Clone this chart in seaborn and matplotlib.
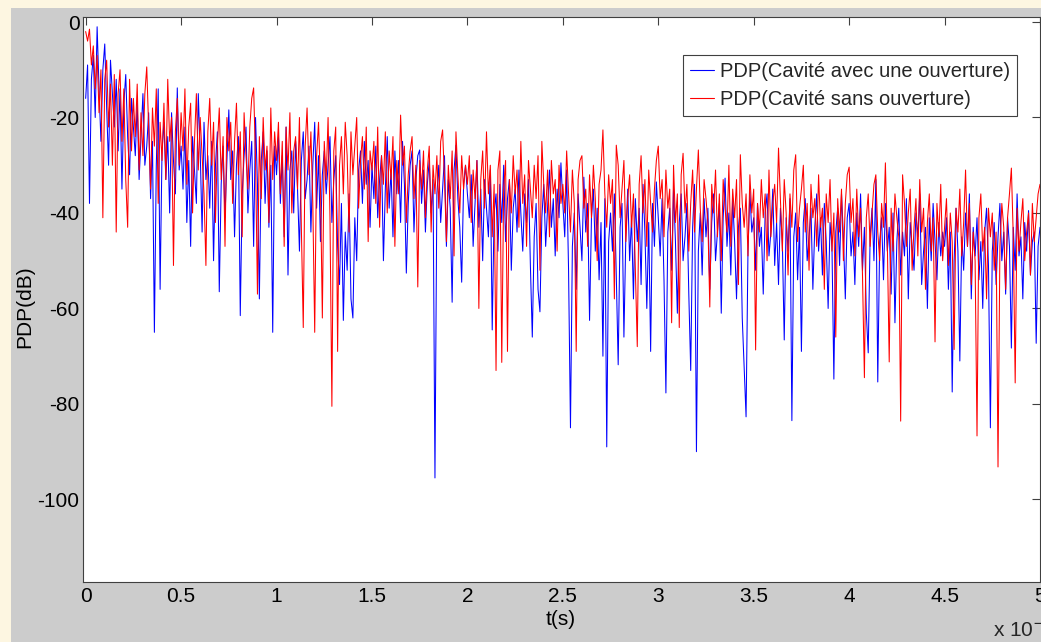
import numpy as np
import pandas as pd
import matplotlib
matplotlib.use("Agg")
import matplotlib.pyplot as plt
from matplotlib.patches import Rectangle
import seaborn as sns

# time grid (units of 1e-7 s)
t = np.round(np.arange(501) * 0.01, 2)

# PDP (Cavité avec une ouverture) - blue
blue = [
    -16, -9, -38, -12, -7, -20, -1, -14, -25, -10, -4.6, -18, -30, -8, -15, -22, -12, -27, -14, -35, -17, -11, -24, -32, -16,
    -22, -28, -17, -33, -24, -15, -30, -26, -19, -37, -25, -65, -30, -14, -56, -27, -21, -33, -24, -40, -19, -29, -36, -13.8, -31,
    -26, -35, -22, -42, -29, -47, -24, -31, -38, -15, -27, -44, -21, -33, -28, -39, -25, -50, -30, -23, -56.5, -34, -26, -41, -29,
    -18.4, -33, -27, -45, -30, -24, -61.5, -36, -28, -22, -40, -31, -25, -47, -20, -34, -58, -29, -23, -38, -27, -43, -30, -65, -26,
    -32, -24, -38, -28, -45, -22, -53, -31, -27, -40, -25, -35, -48, -29, -23, -37, -33, -26, -44, -30, -21, -39, -28, -46, -32,
    -27, -36, -30, -24, -42, -33, -28, -47, -55, -38, -62.5, -44, -52, -36, -58, -62, -41, -50, -31, -27, -38, -25, -34, -29, -43,
    -30, -37, -26, -41, -33, -28, -50, -35, -24, -39, -31, -45, -27, -36, -29, -42, -25, -34, -52.6, -38, -30, -27, -44, -33, -28,
    -26.8, -38, -31, -44, -34, -29, -40, -33, -95.5, -36, -30, -42, -35, -28, -47, -33, -39, -58.7, -31, -25.8, -37, -43, -54.5, -34, -30,
    -36, -41, -32, -47, -38, -29, -43, -35, -50, -33, -39, -45, -31, -64.5, -40, -36, -48, -34, -42, -30, -46, -37, -33, -52, -39,
    -35, -44, -31, -40, -48, -36, -42, -33, -51, -66, -45, -38, -56, -60.7, -41, -34, -47, -39, -31, -43, -37, -49, -35, -41, -29.5,
    -38, -45, -31, -52, -85, -47, -40, -56, -36, -43, -50, -32.5, -44, -38, -62.5, -41, -35, -48, -39, -54, -42, -70, -37, -89, -46,
    -40, -48, -36, -53, -71.8, -43, -38, -66, -45, -35, -50, -41, -58, -37, -46, -39, -55, -34, -44, -60, -42, -69, -38, -47, -33.5,
    -41, -49, -37, -54, -77.7, -44, -39, -52, -35, -46, -61, -42, -36, -50, -45, -38, -57, -73, -43, -34, -90, -48, -40, -53, -37,
    -45, -39, -56, -42, -36, -50, -44, -38, -61, -41, -32.7, -47, -40, -53, -37, -46, -58, -43, -39, -62, -72.5, -82.7, -48, -35.5, -44,
    -41, -52, -38, -47, -43, -57, -40, -36, -49, -44, -35, -51, -42, -55, -39, -46, -66.6, -41, -48, -37, -83.5, -45, -40, -54, -43,
    -69, -42, -37, -50, -45, -39, -56, -43, -36, -48, -41, -53, -38, -46, -60, -42, -47, -74.8, -44, -39, -51, -36, -45, -58, -41,
    -38, -49, -44, -55, -40, -47, -36, -52, -43, -61, -69.3, -45, -39, -50, -33, -75.4, -46, -41, -54, -38, -48, -43, -57, -40, -63,
    -46, -39, -53, -44, -49, -37, -58, -42, -47, -52, -40, -45, -36, -55, -48, -43, -60, -41, -50, -38, -46, -54, -42, -49, -44,
    -47, -41, -56, -44, -77.5, -50, -39, -48, -71, -45, -52, -40, -47, -36, -58, -43, -49, -41, -54, -46, -60, -44, -39, -51, -85,
    -48, -42, -55, -45, -38, -50, -44, -57, -41, -47, -68.3, -43, -52, -36, -49, -45, -58, -42, -48, -39.5, -53, -46, -44, -67.3, -47,
    -43,
]

# PDP (Cavité sans ouverture) - red
red = [
    -2, -4, -1.5, -9, -5, -14, -7, -19, -10, -41, -12, -8, -22, -13, -30, -11, -44, -15, -10, -25, -14, -33, -43, -12, -27,
    -16, -24, -13, -31, -19, -28, -15, -9.4, -22, -35, -18, -26, -14, -38, -21, -29, -17, -33, -12, -25, -20, -51, -23, -16, -30,
    -19, -27, -14, -34, -22, -17, -40, -25, -15, -31, -20, -28, -36, -51, -23, -16, -30, -21, -42, -26, -18, -33, -24, -47, -20,
    -27, -21, -38, -25, -17, -32, -23, -45, -19, -28, -35, -22, -16, -13.8, -29, -57, -24, -37, -20, -31, -26, -42, -18, -33, -23,
    -29, -21, -36, -25, -47, -22, -31, -19, -40, -27, -24, -35, -20, -43, -64, -26, -18, -32, -23, -38, -65, -28, -21, -34, -62,
    -25, -33, -20, -41, -80.5, -27, -22, -69, -30, -24, -36, -21, -28, -44, -23, -32, -26, -20, -39, -29, -24, -35, -22, -46, -27,
    -31, -25, -38, -22, -43, -28, -34, -23, -40, -27, -33, -24, -47, -29, -36, -19.5, -30, -26, -42, -32, -27, -24, -37, -30, -55.5,
    -29, -35, -27, -41, -31, -26, -44, -30, -36, -28, -39, -25, -22.6, -33, -46, -30, -37, -27, -49, -23, -32, -40, -28, -35, -30,
    -34, -28, -42, -31, -37, -29, -60, -33, -27, -39, -23, -36, -30, -45, -34, -73, -31, -27, -71.3, -35, -29, -69, -33, -40, -28,
    -36, -31, -43, -25, -38, -32, -47, -29, -35, -41, -30, -37, -28, -52, -25, -34, -40, -31, -45, -29, -36, -33, -48, -30, -38,
    -34, -40, -27, -36, -44, -31, -38, -69, -33, -29, -28, -39, -35, -47, -32, -41, -30, -37, -50, -34, -31, -22.6, -36, -43, -32,
    -38, -33, -58, -25.8, -30, -41, -35, -29, -46, -37, -32, -43, -36, -52, -68, -34, -28, -40, -33, -47, -31, -38, -44, -35, -29,
    -26, -37, -33, -45, -31, -39, -35, -63, -30, -42, -36, -64, -32, -27.5, -40, -34, -48, -38, -31, -44, -35, -26.8, -39, -46, -33,
    -37, -42, -59.7, -34, -40, -31, -45, -36, -50, -33, -39, -44, -30, -47, -35, -41, -33, -55, -27.8, -38, -43, -36, -49, -32, -40,
    -35, -68.7, -38, -44, -33, -41, -36, -50, -31, -45, -38, -34, -42, -26.4, -37, -48, -33, -40, -53, -36, -43, -31, -27.8, -46, -39,
    -35, -30, -44, -38, -52, -34, -41, -37, -47, -32, -43, -39, -56, -36, -42, -33, -48, -40, -66, -37, -44, -35, -50, -38, -32,
    -30.4, -42, -37, -49, -35, -45, -39, -53, -74.5, -41, -36, -47, -40, -34, -32, -44, -50, -38, -43, -29.5, -46, -71.2, -39, -48, -36,
    -41, -45, -83.6, -32, -38, -47, -40, -35, -52, -43, -37, -49, -33, -44, -39, -56, -42, -36, -48, -41, -67, -38, -45, -34, -50,
    -43, -37, -51, -40, -46, -68.6, -39, -44, -35, -49, -42, -31, -47, -38, -55, -44, -50, -86.7, -41, -36, -48, -43, -58, -39, -45,
    -40, -52, -44, -93.2, -47, -38, -43, -56, -41, -36, -30.6, -45, -75.6, -39, -48, -42, -37, -50, -44, -40, -53, -38, -46, -41, -36,
    -34,
]

labels = ["PDP(Cavité avec une ouverture)", "PDP(Cavité sans ouverture)"]
colors = ["#0000ff", "#ff0000"]
xticks = [0, 0.5, 1, 1.5, 2, 2.5, 3, 3.5, 4, 4.5, 5]
xticklabels = ["0", "0.5", "1", "1.5", "2", "2.5", "3", "3.5", "4", "4.5", "5"]
yticks = [0, -20, -40, -60, -80, -100]
yticklabels = ["0", "-20", "-40", "-60", "-80", "-100"]

sns.set_theme(style="white")
plt.rcParams["font.family"] = ["Liberation Sans", "DejaVu Sans"]
plt.rcParams["axes.unicode_minus"] = False

W, H = 1041, 642
fig = plt.figure(figsize=(W / 100, H / 100), dpi=100, facecolor="#fdf6e1")
fig.add_artist(Rectangle((11 / W, 0), 1 - 11 / W, 1 - 8 / H, transform=fig.transFigure,
                         facecolor="#cccccc", edgecolor="none", zorder=0))

ax = fig.add_axes([83 / W, 1 - 582 / H, (1040 - 83) / W, (582 - 17) / H])
ax.set_facecolor("white")

df = pd.concat([
    pd.DataFrame({"t": t, "PDP": blue, "serie": labels[0]}),
    pd.DataFrame({"t": t, "PDP": red, "serie": labels[1]}),
])
sns.lineplot(data=df, x="t", y="PDP", hue="serie", palette=colors, hue_order=labels,
             estimator=None, sort=False, linewidth=0.75, ax=ax, legend=False)

ax.set_xlim(-0.014, 5.0)
ax.set_ylim(-117.3, 1.05)
ax.set_xticks(xticks)
ax.set_xticklabels(xticklabels)
ax.set_yticks(yticks)
ax.set_yticklabels(yticklabels)
ax.tick_params(direction="in", length=6, width=0.8, colors="#404040", labelcolor="black",
               labelsize=15, top=True, right=True)
ax.tick_params(axis="x", pad=3.5)
ax.tick_params(axis="y", pad=2.5)
for s in ax.spines.values():
    s.set_color("#404040")
    s.set_linewidth(0.8)

ax.set_xlabel("t(s)", fontsize=15, color="black")
ax.set_ylabel("PDP(dB)", fontsize=15, color="black")
ax.xaxis.set_label_coords(0.4995, -0.049)
ax.yaxis.set_label_coords(-0.051, 0.487)

handles = [plt.Line2D([], [], color=c, lw=0.8) for c in colors]
leg = ax.legend(handles, labels, loc="upper right", bbox_to_anchor=(0.976, 0.9327),
                fontsize=14.5, frameon=True, fancybox=False, framealpha=1,
                edgecolor="#404040", handlelength=1.2, handletextpad=0.3,
                borderpad=0.35, labelspacing=0.45, borderaxespad=0)
leg.get_frame().set_linewidth(0.8)

fig.text(993 / W, 1 - 637 / H, r"x 10$^{-7}$", fontsize=15, ha="left", va="baseline")

fig.savefig("out.png", dpi=100, facecolor=fig.get_facecolor())
